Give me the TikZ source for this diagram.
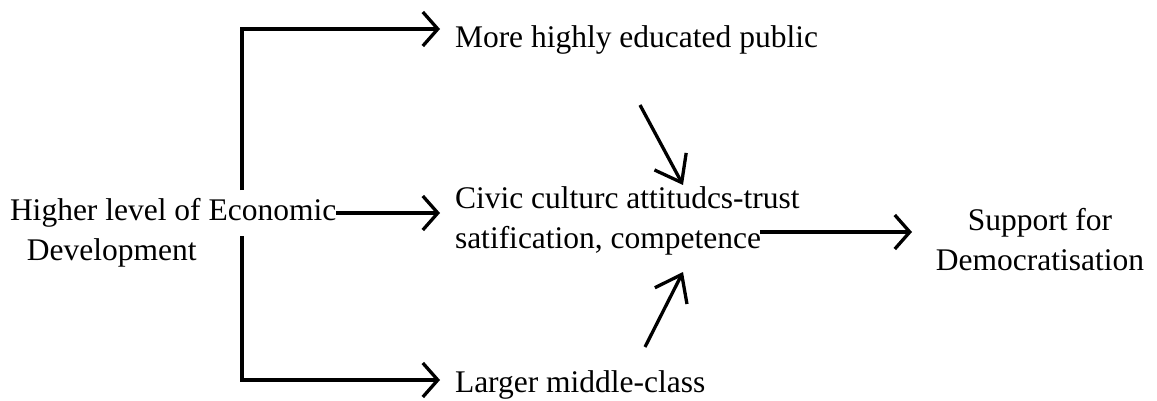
\documentclass[tikz,border=0pt]{standalone}
\usepackage{fontspec}
\setmainfont{Liberation Serif}
\usetikzlibrary{arrows.meta}
\begin{document}
\begin{tikzpicture}[x=1pt,y=-1pt,
  txt/.style={inner sep=0pt,outer sep=0pt,font=\fontsize{31.5}{40}\selectfont},
  conn/.style={line width=3.3pt,-{Straight Barb[length=15pt,width=34pt,line width=3.3pt]}},
  diag/.style={line width=3.3pt,-{Straight Barb[length=24pt,width=36pt,line width=3.3pt]}}]
\useasboundingbox (0,0) rectangle (1157,401);
\node[txt,anchor=base west] (more) at (455,48) {More highly educated public};
\node[txt,anchor=base west] (larger) at (455,392) {Larger middle-class};
\node[txt,anchor=west,align=left] (econ) at (10,233) {Higher level of Economic\\\hspace*{17pt}Development};
\node[txt,anchor=west,align=left] (civic) at (455,221) {Civic culturc attitudcs-trust\\satification, competence};
\node[txt,align=center] (support) at (1040,240) {Support for\\Democratisation};
\coordinate (vtop) at (242,190);
\coordinate (vbot) at (242,236);
\coordinate (ttip) at (440,29);
\coordinate (btip) at (440,380);
\coordinate (mtip) at (440,213);
\coordinate (rstart) at (760,232);
\coordinate (rtip) at (912,232);
\coordinate (dstart) at (640,105);
\coordinate (dtip) at (683,185);
\coordinate (ustart) at (645,347);
\coordinate (utip) at (683,272);
\draw[conn] (vtop) |- (ttip);
\draw[conn] (vbot) |- (btip);
\draw[conn] (econ.east |- mtip) -- (mtip);
\draw[conn] (rstart) -- (rtip);
\draw[diag] (dstart) -- (dtip);
\draw[diag] (ustart) -- (utip);
\end{tikzpicture}
\end{document}
